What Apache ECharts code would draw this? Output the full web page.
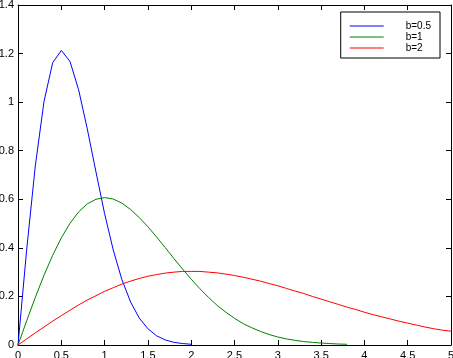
<!DOCTYPE html>
<html>
<head>
<meta charset="utf-8">
<script src="https://cdn.jsdelivr.net/npm/echarts@6/dist/echarts.min.js"></script>
<style>html,body{margin:0;padding:0;background:#fff}#c{width:453px;height:358px}</style>
</head>
<body>
<div id="c"></div>
<script>
var seriesNames = ['b=0.5', 'b=1', 'b=2'];
var xTicks = [0, 0.5, 1, 1.5, 2, 2.5, 3, 3.5, 4, 4.5, 5];
var yTicks = [0, 0.2, 0.4, 0.6, 0.8, 1, 1.2, 1.4];

var xBlue = [0,0.1,0.2,0.3,0.4,0.5,0.6,0.7,0.8,0.9,1.0,1.1,1.2,1.3,1.4,1.5,1.6,1.7,1.8,1.9,2.0];
var yBlue = [0,0.392,0.738,1.002,1.162,1.213,1.168,1.051,0.890,0.713,0.541,0.391,0.269,0.177,0.111,0.067,0.038,0.021,0.011,0.006,0.003];

var xGreen = [0,0.1,0.2,0.3,0.4,0.5,0.6,0.7,0.8,0.9,1.0,1.1,1.2,1.3,1.4,1.5,1.6,1.7,1.8,1.9,2.0,2.1,2.2,2.3,2.4,2.5,2.6,2.7,2.8,2.9,3.0,3.1,3.2,3.3,3.4,3.5,3.6,3.7,3.8];
var yGreen = [0,0.0995,0.196,0.287,0.369,0.441,0.501,0.548,0.581,0.600,0.607,0.601,0.584,0.558,0.525,0.487,0.445,0.401,0.356,0.313,0.271,0.232,0.196,0.163,0.135,0.110,0.088,0.071,0.056,0.043,0.033,0.025,0.019,0.014,0.011,0.008,0.006,0.004,0.003];

var xRed = [0,0.1,0.2,0.3,0.4,0.5,0.6,0.7,0.8,0.9,1.0,1.1,1.2,1.3,1.4,1.5,1.6,1.7,1.8,1.9,2.0,2.1,2.2,2.3,2.4,2.5,2.6,2.7,2.8,2.9,3.0,3.1,3.2,3.3,3.4,3.5,3.6,3.7,3.8,3.9,4.0,4.1,4.2,4.3,4.4,4.5,4.6,4.7,4.8,4.9,5.0];
var yRed = [0,0.025,0.050,0.074,0.098,0.121,0.143,0.165,0.185,0.203,0.221,0.236,0.251,0.263,0.274,0.283,0.290,0.296,0.300,0.303,0.303,0.303,0.300,0.297,0.292,0.286,0.279,0.271,0.263,0.253,0.244,0.233,0.222,0.212,0.200,0.189,0.178,0.167,0.156,0.146,0.135,0.125,0.116,0.107,0.098,0.090,0.082,0.074,0.067,0.061,0.057];

var colors = ['#0000ff', '#008000', '#ff0000'];

function pairs(xs, ys) { return xs.map(function (x, i) { return [x, ys[i]]; }); }

var font = { fontFamily: 'Liberation Sans, Arial, sans-serif', fontSize: 11, color: '#000' };
var axisLine = { show: true, onZero: false, lineStyle: { color: '#000', width: 1 } };
var tick = { show: true, inside: true, length: 5, lineStyle: { color: '#000' } };

var chart = echarts.init(document.getElementById('c'), null, { renderer: 'canvas' });
chart.setOption({
  animation: false,
  backgroundColor: '#fff',
  color: colors,
  grid: { left: 18, top: 5, width: 433, height: 340, containLabel: false, outerBoundsMode: 'none' },
  legend: {
    data: seriesNames,
    right: 13, top: 12,
    orient: 'vertical',
    icon: 'rect', itemWidth: 34, itemHeight: 1, itemGap: 1,
    backgroundColor: '#fff', borderColor: '#000', borderWidth: 1,
    padding: [9, 9, 5, 9],
    textStyle: { fontFamily: 'Liberation Sans, Arial, sans-serif', fontSize: 10, lineHeight: 10, color: '#000', padding: [0, 0, 0, 17] }
  },
  xAxis: [
    { type: 'value', min: xTicks[0], max: xTicks[xTicks.length-1], interval: 0.5, position: 'bottom',
      axisLine: axisLine, axisTick: tick, splitLine: { show: false },
      axisLabel: Object.assign({}, font, { margin: 5 }) },
    { type: 'value', min: 0, max: 5, interval: 0.5, position: 'top',
      axisLine: axisLine, axisTick: tick, splitLine: { show: false }, axisLabel: { show: false } }
  ],
  yAxis: [
    { type: 'value', min: yTicks[0], max: yTicks[yTicks.length-1], interval: 0.2, position: 'left',
      axisLine: axisLine, axisTick: tick, splitLine: { show: false },
      axisLabel: Object.assign({}, font, { margin: 4 }) },
    { type: 'value', min: 0, max: 1.4, interval: 0.2, position: 'right',
      axisLine: axisLine, axisTick: tick, splitLine: { show: false }, axisLabel: { show: false } }
  ],
  series: [
    { name: seriesNames[0], type: 'line', data: pairs(xBlue, yBlue), showSymbol: false, symbol: 'none', lineStyle: { width: 1, color: colors[0] } },
    { name: seriesNames[1], type: 'line', data: pairs(xGreen, yGreen), showSymbol: false, symbol: 'none', lineStyle: { width: 1, color: colors[1] } },
    { name: seriesNames[2], type: 'line', data: pairs(xRed, yRed), showSymbol: false, symbol: 'none', lineStyle: { width: 1, color: colors[2] } }
  ]
});
</script>
</body>
</html>
